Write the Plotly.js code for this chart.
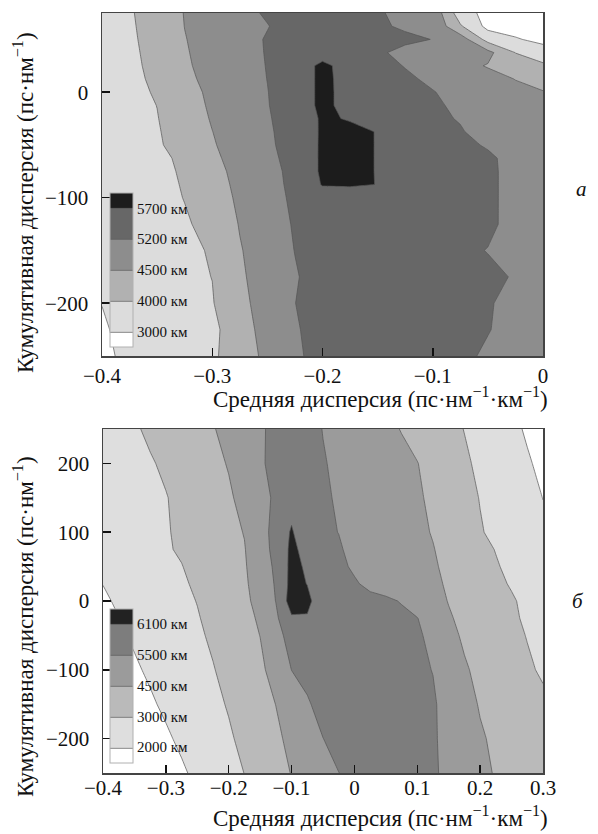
<!DOCTYPE html>
<html>
<head>
<meta charset="utf-8">
<script src="https://cdn.plot.ly/plotly-3.0.1.min.js"></script>
<style>html,body{margin:0;padding:0;background:#fff}#chart{width:598px;height:834px}</style>
</head>
<body>
<div id="chart"></div>
<script>
// ---------- panel (а) ----------
const xTop = [-0.4,-0.375,-0.35,-0.325,-0.3,-0.275,-0.25,-0.225,-0.2,-0.175,-0.15,-0.125,-0.1,-0.075,-0.05,-0.025,0];
const yTop = [-250,-225,-200,-175,-150,-125,-100,-87.5,-75,-62.5,-50,-37.5,-25,-12.5,0,12.5,25,37.5,50,62.5,75];
const zTop = [
 [2700,3330,3500,3670,3850,4255,4661,5067,5400,5450,5450,5425,5375,5275,5130,4920,4710],
 [2850,3390,3550,3720,3820,4230,4822,5116,5440,5450,5450,5425,5375,5300,5215,5046,4780],
 [3020,3250,3500,3720,3950,4350,4843,5193,5400,5450,5450,5425,5375,5300,5240,5004,4780],
 [3300,3470,3650,3820,4005,4440,4766,5144,5410,5450,5450,5425,5400,5350,5300,5151,4745],
 [3400,3420,3450,3490,4100,4475,4780,5210,5400,5450,5450,5425,5375,5300,5179,4920,4710],
 [3400,3550,3700,3850,4210,4528,4892,5240,5425,5475,5475,5450,5425,5375,5300,4969,4710],
 [3400,3470,3540,4020,4295,4598,4955,5280,5500,5500,5500,5475,5450,5400,5325,4913,4710],
 [3400,3480,3560,4055,4325,4640,4885,5350,5725,5740,5695,5600,5500,5425,5325,4913,4710],
 [3400,3520,3640,4085,4360,4682,5011,5315,5775,5800,5685,5600,5500,5425,5325,4913,4710],
 [3400,3550,3700,4130,4405,4759,5060,5340,5770,5800,5685,5600,5500,5400,5300,4927,4745],
 [3400,3650,3900,4170,4465,4759,5102,5365,5765,5800,5685,5575,5475,5350,5116,4920,4780],
 [3400,3665,3930,4210,4495,4808,5123,5375,5760,5800,5685,5550,5425,5250,4857,4815,4780],
 [3400,3680,3970,4250,4549,4843,5151,5385,5760,5670,5500,5425,5325,5144,4955,4815,4710],
 [3400,3700,4005,4285,4598,4871,5172,5445,5800,5560,5425,5350,5260,5095,4885,4745,4640],
 [3400,3730,4045,4320,4640,4899,5186,5445,5800,5560,5425,5350,5225,4941,4780,4640,4535],
 [3400,3760,4090,4375,4724,4927,5205,5445,5800,5550,5425,5300,5046,4850,4710,4490,4300],
 [3400,3780,4130,4440,4717,4955,5215,5445,5800,5520,5400,5165,4920,4710,4470,4250,4075],
 [3400,3810,4155,4465,4724,4969,5225,5375,5500,5425,5275,5011,4850,4710,4696,3980,3500],
 [3400,3840,4185,4485,4731,4990,5230,5350,5425,5425,5375,5300,5186,4878,3620,3100,2700],
 [3400,3870,4210,4507,4724,4955,5179,5375,5425,5400,5275,5102,5095,4055,2720,2550,2450],
 [3400,3900,4235,4521,4773,5018,5250,5350,5400,5350,5250,5018,5011,3460,2690,2500,2400]
];
const levelsTop = [3000,4000,4500,5200,5700];
const legendTop = ['3000 км','4000 км','4500 км','5200 км','5700 км'];
const colorsTop = ['#ffffff','#dcdcdc','#b1b1b1','#8d8d8d','#676767','#1c1c1c'];
const xTicksTop = [-0.4,-0.3,-0.2,-0.1,0];
const yTicksTop = [-200,-100,0];

// ---------- panel (б) ----------
const xBot = [-0.4,-0.375,-0.35,-0.325,-0.3,-0.275,-0.25,-0.225,-0.2,-0.175,-0.15,-0.125,-0.1,-0.075,-0.05,-0.025,0,0.025,0.05,0.075,0.1,0.125,0.15,0.175,0.2,0.225,0.25,0.275,0.3];
const yBot = [-250,-200,-150,-100,-50,-25,0,25,50,75,100,150,200,250];
const zBot = [
 [480,760,1040,1330,1610,1890,2170,2450,2730,3015,3525,4035,4530,4850,5180,5490,5650,5740,5770,5740,5680,5590,5230,5000,4700,4410,4140,3870,3600],
 [880,1130,1380,1640,1890,2140,2390,2650,2900,3285,3780,4260,4710,5100,5490,5680,5770,5800,5770,5740,5680,5572,5190,4930,4590,4290,4020,3735,3450],
 [1210,1440,1670,1900,2130,2360,2590,2820,3090,3570,4035,4510,4950,5390,5710,5770,5800,5800,5770,5740,5680,5560,5180,4790,4410,4125,3825,3525,3225],
 [1470,1690,1900,2110,2320,2530,2750,2960,3360,3810,4260,4820,5506,5680,5770,5800,5800,5770,5710,5650,5590,5480,5020,4590,4215,3870,3525,3165,2900],
 [1710,1900,2100,2290,2490,2690,2880,3180,3615,4065,4510,5180,5710,5800,5830,5800,5770,5710,5650,5590,5530,5410,4730,4320,3975,3645,3300,2970,2700],
 [1810,1990,2190,2380,2570,2760,2950,3300,3720,4140,4610,5330,6028,6058,5920,5830,5770,5710,5650,5590,5512,5080,4580,4215,3870,3525,3195,2880,2600],
 [1900,2090,2270,2460,2640,2830,3030,3435,3840,4245,4760,5512,6376,6220,5794,5770,5710,5650,5572,5460,5100,4780,4455,4125,3795,3465,3135,2810,2500],
 [2010,2170,2350,2530,2710,2900,3165,3555,3930,4320,4870,5554,6280,6088,5860,5710,5560,5290,5190,5000,4810,4630,4380,4005,3645,3270,2930,2660,2400],
 [2600,2680,2750,2830,2910,2980,3285,3660,4020,4380,4970,5602,6250,6028,5800,5620,5370,5260,5090,4920,4750,4580,4275,3885,3495,3105,2810,2560,2300],
 [2600,2690,2770,2860,2940,3105,3435,3780,4110,4440,5080,5668,6220,5920,5710,5548,5290,5210,5040,4870,4700,4530,4155,3765,3360,2970,2710,2460,2200],
 [2600,2690,2780,2870,2950,3165,3495,3840,4170,4530,5150,5680,6160,5662,5572,5490,5320,5150,4980,4820,4650,4440,3990,3540,3090,2820,2600,2370,2150],
 [2600,2690,2790,2880,2970,3255,3615,3975,4335,4740,5190,5590,5860,5716,5572,5410,5250,5090,4920,4760,4590,4305,3855,3405,2970,2730,2480,2240,1990],
 [2600,2710,2830,2940,3165,3510,3855,4200,4550,4980,5410,5620,5770,5680,5530,5360,5200,5030,4860,4690,4520,4095,3645,3180,2850,2590,2340,2080,1830],
 [2500,2710,2920,3180,3495,3810,4110,4425,4750,5070,5400,5614,5782,5656,5480,5280,5080,4880,4680,4455,4080,3720,3345,2980,2710,2450,2180,1910,1650]
];
const levelsBot = [2000,3000,4500,5500,6100];
const legendBot = ['2000 км','3000 км','4500 км','5500 км','6100 км'];
const colorsBot = ['#ffffff','#dedede','#bababa','#9b9b9b','#7d7d7d','#222222'];
const xTicksBot = [-0.4,-0.3,-0.2,-0.1,0,0.1,0.2,0.3];
const yTicksBot = [-200,-100,0,100,200];

const xTitle = 'Средняя дисперсия (пс·нм<sup>−1</sup>·км<sup>−1</sup>)';
const yTitle = 'Кумулятивная дисперсия (пс·нм<sup>−1</sup>)';
const panelLabels = ['а', 'б'];

// map distance values onto level-band index (levels are not equally spaced)
function toIndex(v, lv) {
  const n = lv.length;
  if (v <= lv[0]) return 1 + (v - lv[0]) / (lv[1] - lv[0]);
  if (v >= lv[n-1]) return n + (v - lv[n-1]) / (lv[n-1] - lv[n-2]);
  for (let k = 0; k < n - 1; k++) {
    if (v >= lv[k] && v <= lv[k+1]) return k + 1 + (v - lv[k]) / (lv[k+1] - lv[k]);
  }
}
function scale(colors) {
  return colors.map((c, i) => [i / (colors.length - 1), c]);
}
const serif = 'Liberation Serif, Times New Roman, serif';
const W = 598, H = 834;
const ink = '#111111';

function contourTrace(x, y, z, levels, colors, labels, xa, ya, cbY) {
  return {
    type: 'contour', x: x, y: y,
    z: z.map(r => r.map(v => toIndex(v, levels))),
    xaxis: xa, yaxis: ya,
    autocontour: false,
    contours: {start: 1, end: levels.length, size: 1, coloring: 'fill', showlines: true},
    colorscale: scale(colors),
    line: {color: '#555555', width: 0.7, smoothing: 0},
    hoverinfo: 'skip',
    showscale: true,
    colorbar: {
      x: 110 / W, xanchor: 'left', xpad: 0,
      y: cbY, yanchor: 'middle', ypad: 0,
      len: 154, lenmode: 'pixels',
      thickness: 23, thicknessmode: 'pixels',
      tickmode: 'array', tickvals: levels.map((l, i) => i + 1), ticktext: labels,
      ticks: '', ticklabelposition: 'outside',
      tickfont: {family: serif, size: 15, color: ink},
      outlinewidth: 1, outlinecolor: '#b0b0b0',
      borderwidth: 0, bgcolor: 'rgba(0,0,0,0)'
    }
  };
}

const data = [
  contourTrace(xTop, yTop, zTop, levelsTop, colorsTop, legendTop, 'x', 'y', (H - 270) / H),
  contourTrace(xBot, yBot, zBot, levelsBot, colorsBot, legendBot, 'x2', 'y2', (H - 685.5) / H)
];

function axisX(domain, anchor, range, tickvals, standoff) {
  return {
    domain: domain, anchor: anchor, range: range,
    tickmode: 'array', tickvals: tickvals,
    ticks: 'inside', ticklen: 8, tickwidth: 1.5, tickcolor: ink,
    showline: true, mirror: true, linecolor: '#444', linewidth: 1.5,
    showgrid: false, zeroline: false,
    ticklabelstandoff: standoff,
    tickfont: {family: serif, size: 21, color: ink}
  };
}
function axisY(domain, anchor, range, tickvals) {
  return {
    domain: domain, anchor: anchor, range: range,
    tickmode: 'array', tickvals: tickvals,
    ticks: 'inside', ticklen: 8, tickwidth: 1.5, tickcolor: ink,
    showline: true, mirror: true, linecolor: '#444', linewidth: 1.5,
    showgrid: false, zeroline: false,
    ticklabelstandoff: 8,
    tickfont: {family: serif, size: 21, color: ink}
  };
}

const titleFont = {family: serif, size: 23, color: ink};
function ann(text, px, py, extra) {
  return Object.assign({text: text, x: px / W, y: (H - py) / H, xref: 'paper', yref: 'paper',
    showarrow: false, xanchor: 'center', yanchor: 'middle', font: titleFont}, extra || {});
}

const layout = {
  width: W, height: H,
  margin: {l: 0, r: 0, t: 0, b: 0},
  paper_bgcolor: '#fff', plot_bgcolor: '#fff',
  showlegend: false,
  xaxis: axisX([102 / W, 543 / W], 'y', [-0.4, 0], xTicksTop, 0),
  yaxis: axisY([(H - 356) / H, (H - 13) / H], 'x', [-250, 75], yTicksTop),
  xaxis2: axisX([103 / W, 543 / W], 'y2', [-0.4, 0.3], xTicksBot, -5),
  yaxis2: axisY([(H - 773) / H, (H - 429) / H], 'x2', [-250, 250], yTicksBot),
  annotations: [
    ann(xTitle, 380, 397),
    ann(xTitle, 380, 816),
    ann(yTitle, 23, 203, {textangle: -90}),
    ann(yTitle, 23, 627, {textangle: -90}),
    ann('<i>' + panelLabels[0] + '</i>', 581, 189, {font: {family: serif, size: 21, color: ink}}),
    ann('<i>' + panelLabels[1] + '</i>', 578, 601, {font: {family: serif, size: 21, color: ink}})
  ]
};

Plotly.newPlot('chart', data, layout, {staticPlot: true, displayModeBar: false});
</script>
</body>
</html>
